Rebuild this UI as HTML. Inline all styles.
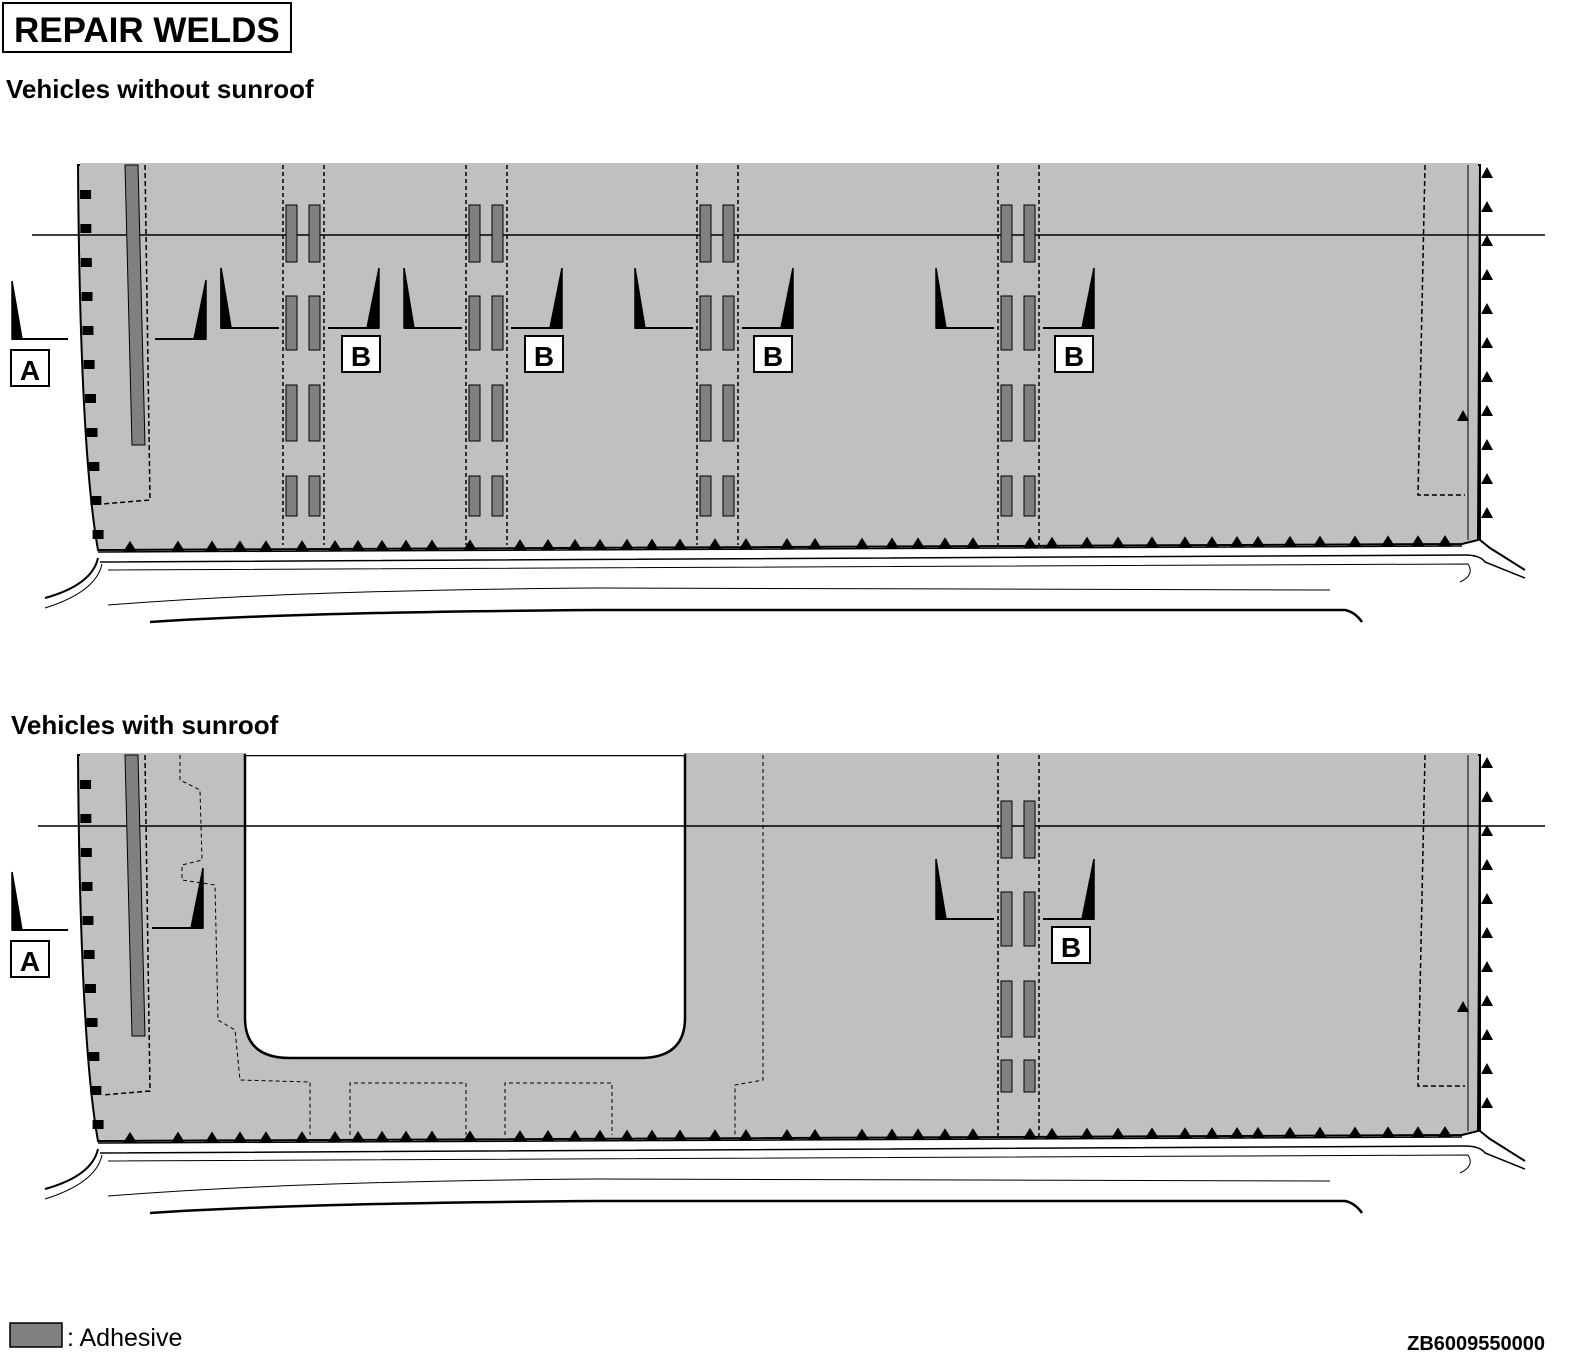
<!DOCTYPE html>
<html><head><meta charset="utf-8"><style>
body{margin:0;background:#fff}
svg{display:block;font-family:"Liberation Sans",Arial,sans-serif}
</style></head><body>
<svg id="s" width="1578" height="1368" viewBox="0 0 1578 1368" xmlns="http://www.w3.org/2000/svg">
<rect x="3" y="3" width="288" height="49" fill="#fff" stroke="#000" stroke-width="2"/>
<text x="14" y="42" font-size="35" font-weight="bold">REPAIR WELDS</text>
<text x="6" y="98" font-size="26" font-weight="bold">Vehicles without sunroof</text>
<text x="11" y="734" font-size="26" font-weight="bold">Vehicles with sunroof</text>
<g id="p1"></g>
<g id="p2"></g>
<rect x="10" y="1323" width="52" height="24" fill="#808080" stroke="#000" stroke-width="1.5"/>
<text x="67" y="1346" font-size="25">: Adhesive</text>
<text x="1545" y="1350" font-size="20" font-weight="bold" text-anchor="end">ZB6009550000</text>
</svg>
<script>
const NS="http://www.w3.org/2000/svg";
const stripsTop=[283,466,697,998];
const stripsBot=[998];
const bTop=[342,525,754,1055];
const bBot=[1052];
const adhRows=[[205,262],[296,350],[385,441],[476,516]];
const triX=[130,178,212,240,266,302,335,358,382,406,432,470,520,548,575,600,627,652,680,715,746,787,815,862,892,918,945,973,1030,1052,1087,1118,1152,1185,1212,1237,1258,1290,1320,1355,1388,1418,1445];
function el(p,t,a){const e=document.createElementNS(NS,t);for(const k in a)e.setAttribute(k,a[k]);p.appendChild(e);return e;}
function weldL(g,x,y0,y1,x2){ // vertical at x, triangle pointing right, line to x2
  el(g,'path',{d:`M${x} ${y0} L${x} ${y1} L${x+10} ${y1}Z`,fill:'#000',stroke:'#000','stroke-width':1.5});
  el(g,'path',{d:`M${x} ${y1} L${x2} ${y1}`,stroke:'#000','stroke-width':2,fill:'none'});
}
function weldR(g,x,y0,y1,x2){ // vertical at x, triangle pointing left, line to x2 (x2<x)
  el(g,'path',{d:`M${x} ${y0} L${x} ${y1} L${x-12} ${y1}Z`,fill:'#000',stroke:'#000','stroke-width':1.5});
  el(g,'path',{d:`M${x} ${y1} L${x2} ${y1}`,stroke:'#000','stroke-width':2,fill:'none'});
}
function panel(g,dy,sun){
  const yb=550+dy;
  let topY=sun?755:165;
  let d=`M78 ${topY} Q80 ${yb-100} 98 ${yb} L1462 ${yb-6} L1478 ${yb-10} L1480 ${topY} Z`;
  let gray=el(g,'path',{d,fill:'#c0c0c0',stroke:'#000','stroke-width':2});
  
  
  el(g,'rect',{x:80,y:topY-2,width:1398,height:3,fill:'#c0c0c0'});
  if(sun){
    let c=el(g,'path',{d:`M245 ${topY} L245 1018 Q245 1058 290 1058 L640 1058 Q685 1058 685 1018 L685 ${topY} Z`,fill:'#fff',stroke:'#000','stroke-width':2.5});
    
    
    el(g,'rect',{x:246,y:topY-3,width:438,height:3,fill:'#fff'});
    const dd='stroke-dasharray';
    el(g,'path',{d:`M180 755 L180 780 L200 790 L202 860 L182 865 L182 880 L215 885 L218 1020 L235 1030 L240 1080 L310 1082 L310 1135`,stroke:'#000','stroke-width':1,[dd]:'4 3',fill:'none'});
    el(g,'path',{d:`M350 1135 L350 1083 L466 1083 L466 1135 M505 1135 L505 1083 L612 1083 L612 1135`,stroke:'#000','stroke-width':1,[dd]:'4 3',fill:'none'});
    el(g,'path',{d:`M763 755 L763 1080 L735 1085 L735 1135`,stroke:'#000','stroke-width':1,[dd]:'4 3',fill:'none'});
  }
  el(g,'path',{d:`M98 ${yb+2} L1462 ${yb-4}`,stroke:'#000','stroke-width':1.5,fill:'none'});
  el(g,'path',{d:`M100 ${yb+12} L1465 ${yb+5} Q1480 ${yb+5} 1485 ${yb+12} L1525 ${yb+28}`,stroke:'#000','stroke-width':1.5,fill:'none'});
  el(g,'path',{d:`M98 ${yb+8} Q92 ${yb+35} 45 ${yb+48}`,stroke:'#000','stroke-width':2,fill:'none'});
  el(g,'path',{d:`M102 ${yb+14} Q96 ${yb+42} 45 ${yb+58}`,stroke:'#000','stroke-width':1,fill:'none'});
  el(g,'path',{d:`M108 ${yb+20} L1468 ${yb+14} Q1475 ${yb+25} 1460 ${yb+32}`,stroke:'#000','stroke-width':1,fill:'none'});
  el(g,'path',{d:`M108 ${yb+55} Q300 ${yb+40} 600 ${yb+38} L1330 ${yb+40}`,stroke:'#000','stroke-width':1,fill:'none'});
  el(g,'path',{d:`M150 ${yb+72} Q300 ${yb+62} 600 ${yb+60} L1345 ${yb+60} Q1355 ${yb+62} 1362 ${yb+72}`,stroke:'#000','stroke-width':2.5,fill:'none'});
  el(g,'path',{d:`M1480 ${topY} L1480 ${yb-10} L1490 ${yb-2} L1525 ${yb+20}`,stroke:'#000','stroke-width':2,fill:'none'});
  el(g,'path',{d:`M1468 ${topY} L1468 ${yb-10}`,stroke:'#000','stroke-width':1,fill:'none'});
  el(g,'path',{d:`M145 ${topY} L150 ${yb-50} L102 ${yb-46}`,stroke:'#000','stroke-width':1.5,'stroke-dasharray':'5 3',fill:'none'});
  el(g,'path',{d:`M1425 ${topY} L1418 ${yb-55} L1465 ${yb-55}`,stroke:'#000','stroke-width':1.5,'stroke-dasharray':'5 3',fill:'none'});
  const cl=el(g,'path',{d:`M${sun?38:32} ${235+dy} L1545 ${235+dy}`,stroke:'#000','stroke-width':1.5,fill:'none'});
  
  
  el(g,'path',{d:`M125 ${topY} L138 ${topY} L145 ${yb-105} L132 ${yb-105} Z`,fill:'#808080',stroke:'#000','stroke-width':1});
  const strips=sun?stripsBot:stripsTop;
  strips.forEach((x,i)=>{
    const st=el(g,'path',{d:`M${x} ${topY} L${x} ${yb-5} M${x+41} ${topY} L${x+41} ${yb-5}`,stroke:'#000','stroke-width':1.5,'stroke-dasharray':'4 3',fill:'none'});
    
    
    adhRows.forEach(r=>{
      let ry0=r[0]+dy, ry1=r[1]+dy;
      if(sun){ry0=r[0]+dy+5; ry1=r[1]+dy+(r[0]>450?-15:5); if(r[0]>450) ry0=1060;}
      [x+3,x+26].forEach(ax=>{
        const a=el(g,'rect',{x:ax,y:ry0,width:11,height:ry1-ry0,fill:'#808080',stroke:'#000','stroke-width':1});
        
        
      });
    });
  });
  const bs=sun?bBot:bTop;
  bs.forEach((bx,i)=>{
    const sx=strips[i];
    weldL(g,sx-62+(sun?0:0),268+dy,328+dy,sx-4);
    weldR(g,sx+96,268+dy,328+dy,sx+45);
    const r=el(g,'rect',{x:bx,y:336+dy,width:38,height:36,fill:'#fff',stroke:'#000','stroke-width':2});
    
    
    const t=el(g,'text',{x:bx+19,y:366+dy,'font-size':28,'font-weight':'bold','text-anchor':'middle'});
    t.textContent='B';
  });
  if(!sun){
    weldL(g,221,268,328,278);
    weldR(g,206,280,339,155);
  } else {
    weldR(g,203,868,928,152);
  }
  weldL(g,12,281+dy,339+dy,68);
  const ra=el(g,'rect',{x:11,y:350+dy,width:38,height:36,fill:'#fff',stroke:'#000','stroke-width':2});
  
  
  const ta=el(g,'text',{x:30,y:380+dy,'font-size':28,'font-weight':'bold','text-anchor':'middle'});
  ta.textContent='A';
  for(let y=topY+25;y<yb-10;y+=34){
    const t=(y-topY)/(385);const x=80+14*t*t;
    el(g,'rect',{x:x,y:y,width:11,height:9,fill:'#000'});
  }
  for(let y=topY+2;y<yb-10;y+=34){
    el(g,'path',{d:`M1487 ${y} L1481 ${y+11} L1493 ${y+11}Z`,fill:'#000'});
  }
  el(g,'path',{d:`M1463 ${yb-140} L1457 ${yb-129} L1469 ${yb-129}Z`,fill:'#000'});
  triX.forEach(x=>{
    const yy=yb+2-(x-98)/1364*6;
    const tr=el(g,'path',{d:`M${x} ${yy-11} L${x-7} ${yy} L${x+7} ${yy}Z`,fill:'#000'});
    
    
  });
}
panel(document.getElementById('p1'),0,false);
panel(document.getElementById('p2'),591,true);
</script>
</body></html>
